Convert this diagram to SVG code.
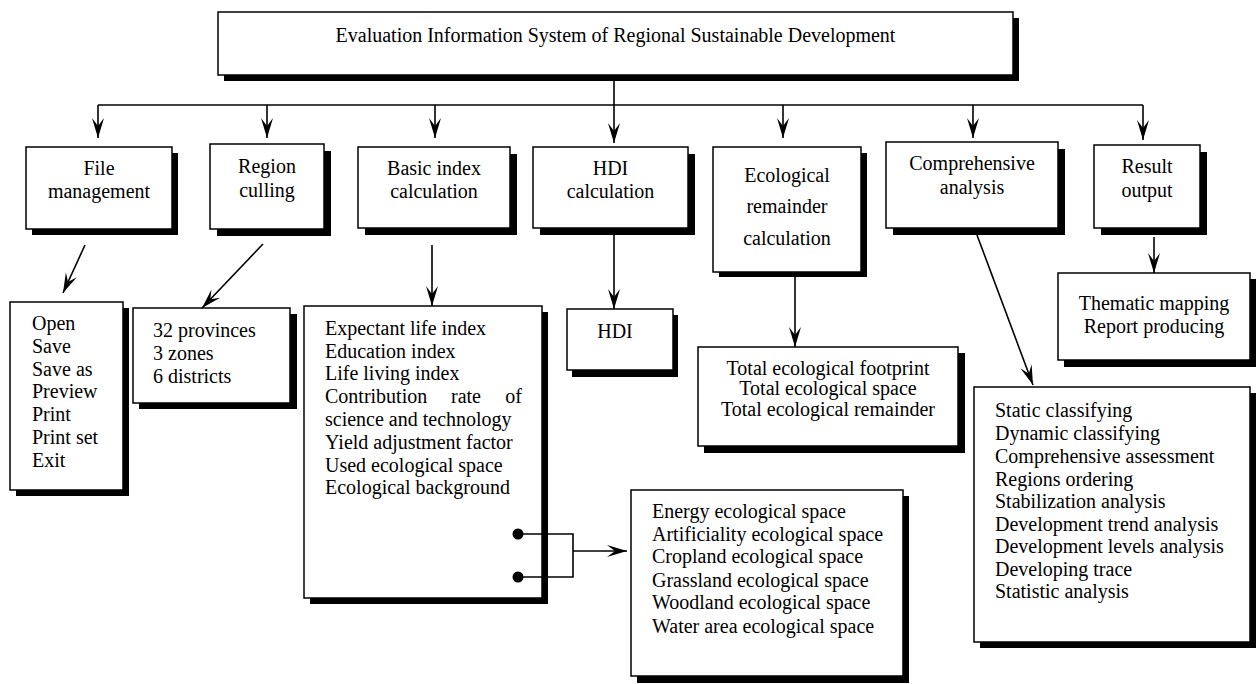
<svg xmlns="http://www.w3.org/2000/svg" width="1256" height="684" viewBox="0 0 1256 684">
<style>
.box{fill:#fff;stroke:#000;stroke-width:1.5}
.sh{fill:#000}
text{font-family:"Liberation Serif","Times New Roman",serif;font-size:20px;fill:#000}
.c{text-anchor:middle}
.e{text-anchor:end}
.ln{fill:none;stroke:#000;stroke-width:1.6}
</style>
<defs>
<marker id="ah" viewBox="-21 -7 22 14" refX="0" refY="0" markerWidth="22" markerHeight="14" markerUnits="userSpaceOnUse" orient="auto">
<path d="M0,0 L-20,-6 L-12,0 L-20,6 Z" fill="#000"/>
</marker>
</defs>
<rect width="1256" height="684" fill="#fff"/>

<g id="root">
<rect class="sh" x="224" y="18" width="795" height="63"/>
<rect class="box" x="218" y="12" width="795" height="63"/>
<text class="c" x="615.5" y="42">Evaluation Information System of Regional Sustainable Development</text>
</g>

<g id="file-management">
<rect class="sh" x="32" y="153" width="146" height="82"/>
<rect class="box" x="26" y="147" width="146" height="82"/>
<text class="c" x="99" y="175">File</text>
<text class="c" x="99" y="198">management</text>
</g>

<g id="region-culling">
<rect class="sh" x="217" y="151" width="114" height="85"/>
<rect class="box" x="210" y="144" width="114" height="85"/>
<text class="c" x="267" y="173">Region</text>
<text class="c" x="267" y="197">culling</text>
</g>

<g id="basic-index">
<rect class="sh" x="365" y="154" width="152" height="81"/>
<rect class="box" x="358" y="147" width="152" height="81"/>
<text class="c" x="434" y="175">Basic index</text>
<text class="c" x="434" y="198">calculation</text>
</g>

<g id="hdi-calc">
<rect class="sh" x="540" y="154" width="155" height="81"/>
<rect class="box" x="533" y="147" width="155" height="81"/>
<text class="c" x="610.5" y="175">HDI</text>
<text class="c" x="610.5" y="198">calculation</text>
</g>

<g id="eco-remainder">
<rect class="sh" x="719" y="153" width="148" height="124"/>
<rect class="box" x="713" y="147" width="148" height="125"/>
<text class="c" x="787" y="182">Ecological</text>
<text class="c" x="787" y="213">remainder</text>
<text class="c" x="787" y="245">calculation</text>
</g>

<g id="comprehensive">
<rect class="sh" x="893" y="149" width="172" height="86"/>
<rect class="box" x="886" y="142" width="172" height="86"/>
<text class="c" x="972" y="170">Comprehensive</text>
<text class="c" x="972" y="194">analysis</text>
</g>

<g id="result-output">
<rect class="sh" x="1101" y="152" width="106" height="83"/>
<rect class="box" x="1094" y="145" width="106" height="83"/>
<text class="c" x="1147" y="173">Result</text>
<text class="c" x="1147" y="197">output</text>
</g>

<g id="file-list">
<rect class="sh" x="16" y="308" width="113" height="188"/>
<rect class="box" x="10" y="302" width="113" height="188"/>
<text x="32" y="330">Open</text>
<text x="32" y="353">Save</text>
<text x="32" y="376">Save as</text>
<text x="32" y="398">Preview</text>
<text x="32" y="421">Print</text>
<text x="32" y="444">Print set</text>
<text x="32" y="467">Exit</text>
</g>

<g id="region-list">
<rect class="sh" x="139" y="314" width="158" height="95"/>
<rect class="box" x="133" y="308" width="157" height="95"/>
<text x="153" y="337">32 provinces</text>
<text x="153" y="360">3 zones</text>
<text x="153" y="383">6 districts</text>
</g>

<g id="basic-list">
<rect class="sh" x="310" y="312" width="238" height="292"/>
<rect class="box" x="304" y="306" width="238" height="292"/>
<text x="325" y="335">Expectant life index</text>
<text x="325" y="358">Education index</text>
<text x="325" y="380">Life living index</text>
<text x="325" y="403">Contribution</text>
<text x="451" y="403">rate</text>
<text class="e" x="522" y="403">of</text>
<text x="325" y="426">science and technology</text>
<text x="325" y="449">Yield adjustment factor</text>
<text x="325" y="472">Used ecological space</text>
<text x="325" y="494">Ecological background</text>
</g>

<g id="hdi-result">
<rect class="sh" x="572" y="315" width="106" height="62"/>
<rect class="box" x="567" y="309" width="106" height="61"/>
<text class="c" x="615" y="338">HDI</text>
</g>

<g id="eco-list">
<rect class="sh" x="704" y="353" width="261" height="100"/>
<rect class="box" x="698" y="347" width="260" height="99"/>
<text class="c" x="828" y="375">Total ecological footprint</text>
<text class="c" x="828" y="395">Total ecological space</text>
<text class="c" x="828" y="416">Total ecological remainder</text>
</g>

<g id="result-list">
<rect class="sh" x="1064" y="279" width="192" height="88"/>
<rect class="box" x="1058" y="273" width="192" height="87"/>
<text class="c" x="1154" y="310">Thematic mapping</text>
<text class="c" x="1154" y="333">Report producing</text>
</g>

<g id="comp-list">
<rect class="sh" x="980" y="393" width="276" height="255"/>
<rect class="box" x="974" y="387" width="276" height="255"/>
<text x="995" y="417">Static classifying</text>
<text x="995" y="440">Dynamic classifying</text>
<text x="995" y="463">Comprehensive assessment</text>
<text x="995" y="486">Regions ordering</text>
<text x="995" y="508">Stabilization analysis</text>
<text x="995" y="531">Development trend analysis</text>
<text x="995" y="553">Development levels analysis</text>
<text x="995" y="576">Developing trace</text>
<text x="995" y="598">Statistic analysis</text>
</g>

<g id="space-list">
<rect class="sh" x="637" y="496" width="272" height="187"/>
<rect class="box" x="631" y="490" width="272" height="186"/>
<text x="652" y="518">Energy ecological space</text>
<text x="652" y="541">Artificiality ecological space</text>
<text x="652" y="563">Cropland ecological space</text>
<text x="652" y="587">Grassland ecological space</text>
<text x="652" y="609">Woodland ecological space</text>
<text x="652" y="633">Water area ecological space</text>
</g>

<g id="connectors">
<line class="ln" x1="614" y1="81" x2="614" y2="143" marker-end="url(#ah)"/>
<line class="ln" x1="98" y1="105" x2="1143" y2="105"/>
<line class="ln" x1="98" y1="105" x2="98" y2="138" marker-end="url(#ah)"/>
<line class="ln" x1="267" y1="105" x2="267" y2="138" marker-end="url(#ah)"/>
<line class="ln" x1="435" y1="105" x2="435" y2="138" marker-end="url(#ah)"/>
<line class="ln" x1="783" y1="105" x2="783" y2="138" marker-end="url(#ah)"/>
<line class="ln" x1="973" y1="105" x2="973" y2="138" marker-end="url(#ah)"/>
<line class="ln" x1="1143" y1="105" x2="1143" y2="140" marker-end="url(#ah)"/>
<line class="ln" x1="85" y1="245" x2="63" y2="293" marker-end="url(#ah)"/>
<line class="ln" x1="263" y1="244" x2="202" y2="308" marker-end="url(#ah)"/>
<line class="ln" x1="432" y1="245" x2="432" y2="306" marker-end="url(#ah)"/>
<line class="ln" x1="614" y1="235" x2="614" y2="309" marker-end="url(#ah)"/>
<line class="ln" x1="795" y1="277" x2="795" y2="347" marker-end="url(#ah)"/>
<line class="ln" x1="977" y1="235" x2="1033" y2="385" marker-end="url(#ah)"/>
<line class="ln" x1="1154" y1="237" x2="1154" y2="273" marker-end="url(#ah)"/>
<circle cx="518" cy="534" r="5.5" fill="#000"/>
<circle cx="518" cy="577" r="5.5" fill="#000"/>
<polyline class="ln" points="518,534 573,534 573,577 518,577"/>
<line class="ln" x1="573" y1="551" x2="627" y2="551" marker-end="url(#ah)"/>
</g>
</svg>
